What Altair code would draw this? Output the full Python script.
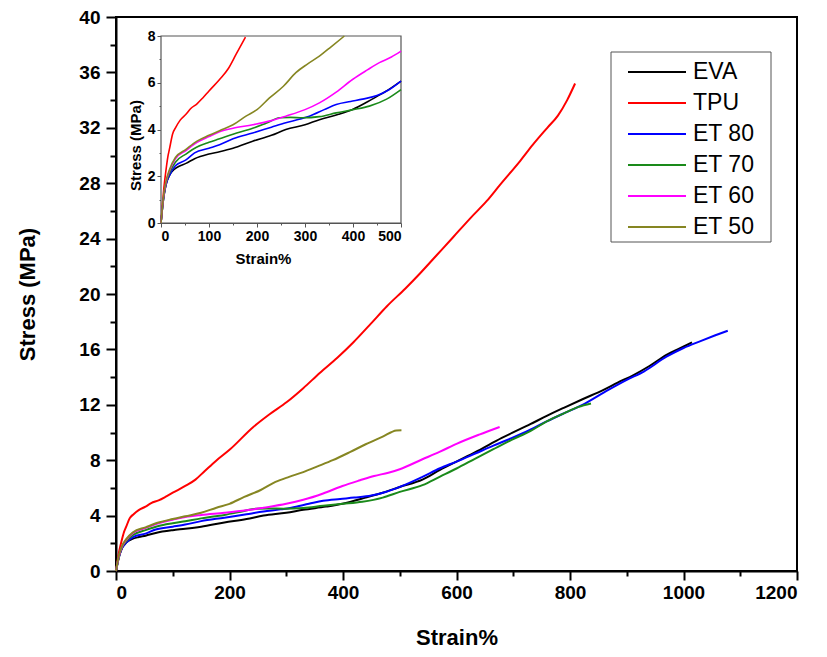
import altair as alt
import pandas as pd

names = ["EVA", "TPU", "ET 80", "ET 70", "ET 60", "ET 50"]
colors = ["#000000", "#ff0000", "#0000ff", "#1a8a1a", "#ff00ff", "#868622"]

eva_strain = [0, 5, 10, 18, 28, 40, 52, 70, 100, 122, 150, 191, 230, 260, 300, 330, 370, 399, 440, 470, 500,
              540, 571, 600, 634, 670, 697, 730, 759, 790, 822, 860, 884, 912, 940, 970, 995, 1015]
eva_stress = [0, 1.0, 1.6, 2.05, 2.3, 2.45, 2.55, 2.75, 2.95, 3.05, 3.2, 3.5, 3.75, 4.0, 4.2, 4.42, 4.65, 4.86, 5.3, 5.65, 6.07,
              6.6, 7.3, 7.9, 8.6, 9.4, 9.95, 10.6, 11.2, 11.8, 12.4, 13.1, 13.6, 14.15, 14.8, 15.6, 16.1, 16.5]

tpu_strain = [0, 3, 6, 10, 14, 18, 24, 31, 40, 52, 62, 75, 87, 100, 122, 140, 156, 176, 200, 242, 270, 301, 330,
              359, 390, 418, 450, 477, 510, 536, 565, 594, 625, 653, 677, 712, 735, 760, 779, 795, 809]
tpu_stress = [0, 0.8, 1.5, 2.2, 2.8, 3.2, 3.8, 4.1, 4.4, 4.65, 4.9, 5.1, 5.35, 5.65, 6.14, 6.6, 7.2, 7.95, 8.75, 10.4, 11.3, 12.2, 13.2,
              14.3, 15.4, 16.5, 17.9, 19.1, 20.4, 21.5, 22.8, 24.1, 25.5, 26.7, 27.9, 29.6, 30.8, 32.0, 32.9, 34.0, 35.2]

et80_strain = [0, 5, 10, 18, 30, 52, 70, 100, 122, 150, 191, 230, 260, 290, 309, 340, 365, 395, 420, 450, 475, 500,
               540, 571, 600, 634, 665, 697, 730, 759, 790, 822, 860, 900, 930, 970, 1000, 1030, 1055, 1078]
et80_stress = [0, 1.0, 1.6, 2.05, 2.45, 2.7, 3.0, 3.2, 3.35, 3.6, 3.85, 4.1, 4.29, 4.45, 4.57, 4.85, 5.07, 5.2, 5.3, 5.45, 5.7, 6.07,
               6.8, 7.42, 7.9, 8.5, 9.05, 9.59, 10.2, 10.8, 11.4, 12.0, 12.9, 13.8, 14.4, 15.47, 16.1, 16.6, 17.0, 17.35]

et70_strain = [0, 5, 10, 18, 30, 52, 75, 100, 122, 150, 191, 220, 247, 270, 295, 330, 365, 400, 434, 470, 500,
               540, 571, 600, 634, 665, 697, 730, 759, 790, 815, 837]
et70_stress = [0, 1.0, 1.65, 2.15, 2.6, 2.95, 3.25, 3.45, 3.6, 3.8, 4.05, 4.28, 4.5, 4.52, 4.5, 4.55, 4.71, 4.85, 5.0, 5.3, 5.71,
               6.2, 6.82, 7.4, 8.14, 8.8, 9.47, 10.1, 10.8, 11.4, 11.85, 12.1]

et60_strain = [0, 5, 10, 18, 30, 52, 75, 100, 122, 150, 191, 230, 260, 300, 330, 365, 399, 430, 455, 480, 500,
               539, 570, 601, 640, 676]
et60_stress = [0, 1.05, 1.7, 2.25, 2.75, 3.1, 3.45, 3.7, 3.9, 4.05, 4.2, 4.38, 4.57, 4.85, 5.14, 5.6, 6.14, 6.55, 6.86, 7.1, 7.35,
               8.05, 8.6, 9.2, 9.85, 10.4]

et50_strain = [0, 5, 10, 18, 30, 52, 75, 100, 122, 150, 177, 200, 226, 255, 281, 305, 330, 355, 382, 413, 440, 470, 494, 503]
et50_stress = [0, 1.1, 1.75, 2.3, 2.8, 3.15, 3.5, 3.75, 3.95, 4.2, 4.57, 4.85, 5.35, 5.85, 6.43, 6.8, 7.14, 7.55, 8.0, 8.6, 9.15, 9.7, 10.15, 10.17]

series_data = [
    ("EVA", eva_strain, eva_stress),
    ("TPU", tpu_strain, tpu_stress),
    ("ET 80", et80_strain, et80_stress),
    ("ET 70", et70_strain, et70_stress),
    ("ET 60", et60_strain, et60_stress),
    ("ET 50", et50_strain, et50_stress),
]
rows = []
for name, xs, ys in series_data:
    for i, (sx, sy) in enumerate(zip(xs, ys)):
        rows.append({"series": name, "strain": sx, "stress": sy, "idx": i})
df = pd.DataFrame(rows)

FONT = "Liberation Sans"
W, H = 681, 554

color_enc = alt.Color("series:N", scale=alt.Scale(domain=names, range=colors), legend=None)

# ---------------- main plot ----------------
main_x = alt.X(
    "strain:Q",
    scale=alt.Scale(domain=[0, 1200], nice=False, zero=False),
    axis=alt.Axis(
        values=list(range(0, 1201, 100)), format="d",
        labelExpr="datum.value % 200 === 0 ? datum.label : ''",
        tickSize={"condition": {"test": "datum.value % 200 === 0", "value": 9}, "value": 5},
        tickWidth=2, tickColor="black", domainColor="black", domainWidth=2,
        labelFont=FONT, labelFontSize=19, labelFontWeight="bold", labelColor="black", labelPadding=3,
        grid=False, title="Strain%", titleFont=FONT, titleFontSize=22, titleFontWeight="bold",
        titleColor="black", titleX=W / 2, titleY=66, titleBaseline="middle", titleAlign="center",
    ),
)
main_y = alt.Y(
    "stress:Q",
    scale=alt.Scale(domain=[0, 40], nice=False),
    axis=alt.Axis(
        values=list(range(0, 41, 2)), format="d",
        labelExpr="datum.value % 4 === 0 ? datum.label : ''",
        tickSize={"condition": {"test": "datum.value % 4 === 0", "value": 10}, "value": 6},
        tickWidth=2, tickColor="black", domainColor="black", domainWidth=2,
        labelFont=FONT, labelFontSize=19, labelFontWeight="bold", labelColor="black", labelPadding=6,
        grid=False, title="Stress (MPa)", titleFont=FONT, titleFontSize=22, titleFontWeight="bold",
        titleColor="black", titleX=-89, titleY=H / 2, titleBaseline="middle", titleAlign="center", titleAngle=270,
    ),
)
main = alt.Chart(df).mark_line(strokeWidth=2, interpolate="monotone").encode(
    x=main_x, y=main_y, color=color_enc, order=alt.Order("idx:Q")
)

# ---------------- inset ----------------
IX0, IX1, IY0, IY1 = 45, 285, 206, 19
inset_x = alt.X(
    "strain:Q",
    scale=alt.Scale(domain=[0, 500], range=[IX0, IX1], nice=False, zero=False),
    axis=alt.Axis(
        orient="bottom", offset=IY0 - H,
        values=list(range(0, 501, 50)), format="d",
        labelExpr="datum.value % 100 === 0 ? datum.label : ''",
        tickSize={"condition": {"test": "datum.value % 100 === 0", "value": 4}, "value": 2},
        tickColor="#555555", domainColor="#555555", tickWidth=1,
        labelFont=FONT, labelFontSize=14, labelFontWeight="bold", labelColor="black", labelPadding=2,
        grid=False, title="Strain%", titleFont=FONT, titleFontSize=15, titleFontWeight="bold",
        titleColor="black", titleX=147, titleY=35, titleBaseline="middle", titleAlign="center",
    ),
)
inset_y = alt.Y(
    "stress:Q",
    scale=alt.Scale(domain=[0, 8], range=[IY0, IY1], nice=False),
    axis=alt.Axis(
        orient="left", offset=-IX0,
        values=list(range(0, 9, 1)), format="d",
        labelExpr="datum.value % 2 === 0 ? datum.label : ''",
        tickSize={"condition": {"test": "datum.value % 2 === 0", "value": 4}, "value": 2},
        tickColor="#555555", domainColor="#555555", tickWidth=1,
        labelFont=FONT, labelFontSize=14, labelFontWeight="bold", labelColor="black", labelPadding=2,
        grid=False, title="Stress (MPa)", titleFont=FONT, titleFontSize=15, titleFontWeight="bold",
        titleColor="black", titleX=-26, titleY=128, titleBaseline="middle", titleAlign="center", titleAngle=270,
    ),
)
inset_frame = alt.Chart(pd.DataFrame({"k": [0]})).mark_rect(
    fill="white", stroke="#555555", strokeWidth=1.2
).encode(
    x=alt.X(datum=0, scale=alt.Scale(domain=[0, 500], range=[IX0, IX1], nice=False, zero=False)),
    x2=alt.X2(datum=500),
    y=alt.Y(datum=0, scale=alt.Scale(domain=[0, 8], range=[IY0, IY1], nice=False)),
    y2=alt.Y2(datum=8),
)
inset_lines = alt.Chart(df).transform_filter(
    "datum.strain <= 500 && datum.stress <= 8"
).mark_line(strokeWidth=1.6, interpolate="monotone").encode(
    x=inset_x, y=inset_y, color=color_enc, order=alt.Order("idx:Q")
)
inset = alt.layer(inset_frame, inset_lines)

# ---------------- legend ----------------
leg_df = pd.DataFrame({"series": names})
leg_y = alt.Y("series:N", scale=alt.Scale(type="point", domain=names, range=[55, 210], padding=0), axis=None)
leg_box = alt.Chart(pd.DataFrame({"k": [0]})).mark_rect(
    fill="white", stroke="#555555", strokeWidth=1
).encode(x=alt.value(495), x2=alt.value(655), y=alt.value(35), y2=alt.value(225))
leg_rules = alt.Chart(leg_df).mark_rule(strokeWidth=2).encode(
    x=alt.value(512), x2=alt.value(570), y=leg_y, color=color_enc
)
leg_text = alt.Chart(leg_df).mark_text(
    align="left", baseline="middle", fontSize=23, font=FONT, color="black"
).encode(x=alt.value(577), y=leg_y, text="series:N")
legend = alt.layer(leg_box, leg_rules, leg_text)

chart = alt.layer(main, inset, legend).resolve_scale(
    x="independent", y="independent"
).properties(
    width=W, height=H,
    autosize=alt.AutoSizeParams(type="none"),
    padding={"left": 116, "top": 17, "right": 30, "bottom": 86},
    background="white",
).configure_view(stroke="black", strokeWidth=2)

chart.save("out.html", embed_options={"renderer": "svg", "actions": False})
